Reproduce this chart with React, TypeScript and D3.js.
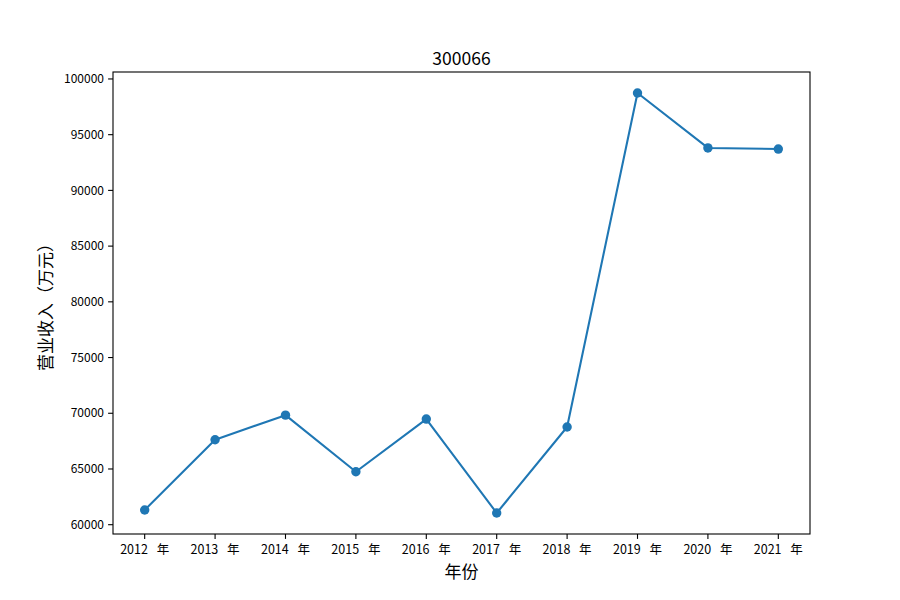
import React from "react";
import * as d3 from "d3";

const years = ["2012", "2013", "2014", "2015", "2016", "2017", "2018", "2019", "2020", "2021"];
const revenue = [61320, 67620, 69830, 64750, 69480, 61050, 68770, 98740, 93810, 93710];
const yTicks = [60000, 65000, 70000, 75000, 80000, 85000, 90000, 95000, 100000];
const title = "300066";
const xLabel = "年份";
const yLabel = "营业收入（万元）";
const yearSuffix = "年";

const W = 900, H = 600;
const M = { left: 113, right: 810, top: 72, bottom: 534 };
const FONT = "'Noto Sans CJK SC', 'Noto Sans', sans-serif";

export default function App() {
  const idx = years.map((_, i) => i);
  const xPad = (years.length - 1) * 0.05;
  const x = d3.scaleLinear().domain([-xPad, years.length - 1 + xPad]).range([M.left, M.right]);
  const [mn, mx] = d3.extent(revenue) as [number, number];
  const yPad = (mx - mn) * 0.05;
  const y = d3.scaleLinear().domain([mn - yPad, mx + yPad]).range([M.bottom, M.top]);
  const line = d3.line<number>().x((_, i) => x(i)).y((d) => y(d));
  const color = "#1f77b4";

  return (
    <svg width={W} height={H} style={{ display: "block", position: "absolute", left: 0, top: 0, background: "#fff" }} fontFamily={FONT}>
      <rect x={0} y={0} width={W} height={H} fill="#fff" />
      {yTicks.map((t) => (
        <g key={t}>
          <line x1={M.left - 4.9} x2={M.left} y1={y(t)} y2={y(t)} stroke="#000" strokeWidth={1.1} />
          <text x={M.left - 9} y={y(t)} dy="0.35em" textAnchor="end" fontSize={12} fill="#000">{t}</text>
        </g>
      ))}
      {idx.map((i) => (
        <g key={years[i]}>
          <line x1={x(i)} x2={x(i)} y1={M.bottom} y2={M.bottom + 4.9} stroke="#000" strokeWidth={1.1} />
          <text x={x(i)} y={M.bottom + 20} textAnchor="middle" fontSize={12.5} fill="#000" style={{ whiteSpace: "pre", wordSpacing: "6px" }}>{`${years[i]} ${yearSuffix}`}</text>
        </g>
      ))}
      <path d={line(revenue) || ""} fill="none" stroke={color} strokeWidth={2.08} strokeLinejoin="round" strokeLinecap="square" />
      {revenue.map((v, i) => (
        <circle key={i} cx={x(i)} cy={y(v)} r={4.7} fill={color} />
      ))}
      <rect x={M.left} y={M.top} width={M.right - M.left} height={M.bottom - M.top} fill="none" stroke="#000" strokeWidth={1.1} />
      <text x={(M.left + M.right) / 2} y={65} textAnchor="middle" fontSize={17.5} fill="#000">{title}</text>
      <text x={(M.left + M.right) / 2} y={578} textAnchor="middle" fontSize={17} fill="#000">{xLabel}</text>
      <text transform={`translate(52, ${(M.top + M.bottom) / 2}) rotate(-90)`} textAnchor="middle" fontSize={17} fill="#000">{yLabel}</text>
    </svg>
  );
}
